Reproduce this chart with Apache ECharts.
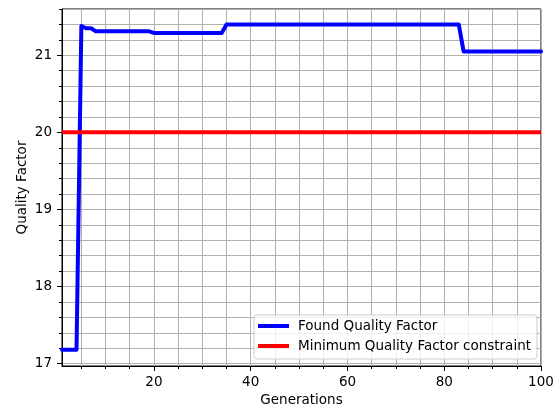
<!DOCTYPE html>
<html lang="en">
<head>
    <meta charset="UTF-8">
    <title>Quality Factor</title>
    <style>
        html, body { margin: 0; padding: 0; background: #fff; }
        #chart { width: 560px; height: 410px; }
    </style>
</head>
<body>
    <div id="chart"></div>
    <script src="https://cdn.jsdelivr.net/npm/echarts@6/dist/echarts.min.js"></script>
    <script>
        // breakpoints of the found quality factor curve (generation, value)
        var generations = [1, 4, 5, 6, 7, 8, 19, 20, 34, 35, 83, 84, 100];
        var foundQ = [17.18, 17.18, 21.38, 21.35, 21.35, 21.31, 21.31, 21.29, 21.29, 21.40, 21.40, 21.05, 21.05];

        // constraint line
        var constraintGens = [1, 100];
        var constraintQ = [20, 20];

        // ticks
        var xMajor = [20, 40, 60, 80, 100];
        var xMinor = [5, 10, 15, 20, 25, 30, 35, 40, 45, 50, 55, 60, 65, 70, 75, 80, 85, 90, 95, 100];
        var yMajor = [17, 18, 19, 20, 21];
        var yMinor = [17, 17.2, 17.4, 17.6, 17.8, 18, 18.2, 18.4, 18.6, 18.8, 19, 19.2, 19.4, 19.6, 19.8,
                      20, 20.2, 20.4, 20.6, 20.8, 21, 21.2, 21.4, 21.6];

        var seriesNames = ['Found Quality Factor', 'Minimum Quality Factor constraint'];

        var xMin = 1, xMax = 100;
        var yMin = 16.97, yMax = 21.6;

        var font = 'DejaVu Sans';
        var fs = 13.5;
        var gridLine = { color: '#b0b0b0', width: 1 };

        function pairs(xs, ys) {
            return xs.map(function (x, i) { return [x, ys[i]]; });
        }

        var chart = echarts.init(document.getElementById('chart'), null, { renderer: 'canvas' });

        chart.setOption({
            animation: false,
            backgroundColor: '#fff',
            textStyle: { fontFamily: font },
            grid: {
                left: 62, right: 19, top: 9, bottom: 44,
                containLabel: false, outerBoundsMode: 'none',
                show: true, borderColor: '#000', borderWidth: 1, backgroundColor: 'transparent'
            },
            legend: {
                orient: 'vertical',
                left: 254, top: 315,
                padding: [4, 6, 6, 4],
                itemGap: 6,
                itemWidth: 31, itemHeight: 4,
                icon: 'rect',
                backgroundColor: 'rgba(255,255,255,0.8)',
                borderColor: '#cccccc', borderWidth: 1, borderRadius: 3,
                textStyle: { fontFamily: font, fontSize: fs, color: '#000', padding: [0, 0, 0, 4] },
                data: seriesNames
            },
            xAxis: [{
                type: 'value', position: 'bottom', min: xMin, max: xMax,
                name: 'Generations', nameLocation: 'middle', nameGap: 27, nameMoveOverlap: false,
                nameTextStyle: { fontFamily: font, fontSize: fs, color: '#000' },
                axisLine: { onZero: false, lineStyle: { color: '#000', width: 1 } },
                axisTick: { show: true, length: 5, customValues: xMajor, lineStyle: { color: '#000' } },
                axisLabel: { customValues: xMajor, margin: 9, fontFamily: font, fontSize: fs, color: '#000' },
                splitLine: { show: false }
            }, {
                type: 'value', position: 'bottom', min: xMin, max: xMax,
                axisLine: { show: false, onZero: false },
                axisTick: { show: true, length: 3, customValues: xMinor, lineStyle: { color: '#000' } },
                axisLabel: { show: false },
                splitLine: { show: true, customValues: xMinor, lineStyle: gridLine }
            }],
            yAxis: [{
                type: 'value', position: 'left', min: yMin, max: yMax,
                name: 'Quality Factor', nameLocation: 'middle', nameGap: 33, nameRotate: 90, nameMoveOverlap: false,
                nameTextStyle: { fontFamily: font, fontSize: fs, color: '#000' },
                axisLine: { show: true, onZero: false, lineStyle: { color: '#000', width: 1 } },
                axisTick: { show: true, length: 5, customValues: yMajor, lineStyle: { color: '#000' } },
                axisLabel: { customValues: yMajor, margin: 10, fontFamily: font, fontSize: fs, color: '#000' },
                splitLine: { show: false }
            }, {
                type: 'value', position: 'left', min: yMin, max: yMax,
                axisLine: { show: false, onZero: false },
                axisTick: { show: true, length: 3, customValues: yMinor, lineStyle: { color: '#000' } },
                axisLabel: { show: false },
                splitLine: { show: true, customValues: yMinor, lineStyle: gridLine }
            }],
            series: [{
                name: seriesNames[0],
                type: 'line',
                xAxisIndex: 0, yAxisIndex: 0,
                data: pairs(generations, foundQ),
                showSymbol: false,
                color: '#0000ff',
                lineStyle: { color: '#0000ff', width: 4, join: 'round', cap: 'round' },
                z: 3
            }, {
                name: seriesNames[1],
                type: 'line',
                xAxisIndex: 0, yAxisIndex: 0,
                data: pairs(constraintGens, constraintQ),
                showSymbol: false,
                color: '#ff0000',
                lineStyle: { color: '#ff0000', width: 4 },
                z: 4
            }]
        });
    </script>
</body>
</html>
